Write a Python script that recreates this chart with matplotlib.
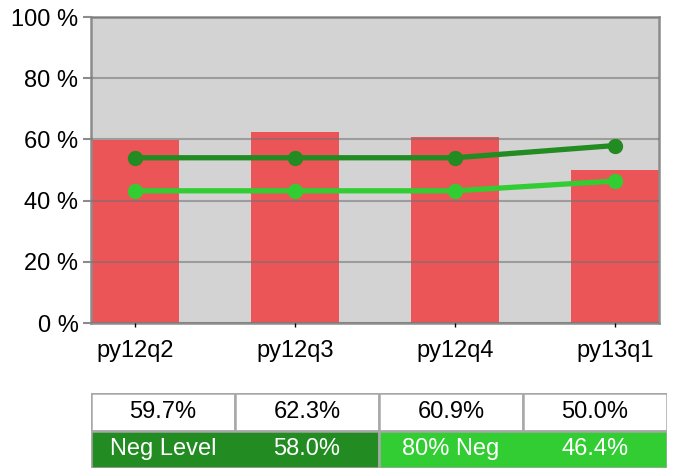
import numpy as np
import matplotlib
matplotlib.use("Agg")
from matplotlib import pyplot as plt
from matplotlib.patches import Rectangle

plt.rcParams["font.family"] = ["Liberation Sans", "DejaVu Sans"]

# data
quarters = ["py12q2", "py12q3", "py12q4", "py13q1"]
share = [59.7, 62.3, 60.9, 50.0]
neg_level = [54.0, 54.0, 54.0, 58.0]
neg_80 = [43.2, 43.2, 43.2, 46.4]
legend_names = ["Neg Level", "80% Neg"]

bar_color = "#ec5558"
dark_green = "#228b22"
light_green = "#32cd32"
frame_gray = "#8c8c8c"
fs = 17

fig = plt.figure(figsize=(6.78, 4.72), dpi=100)
ax = fig.add_axes([91 / 678, 1 - 323 / 472, 568 / 678, 306 / 472])
ax.set_facecolor("#d3d3d3")

x = np.arange(len(quarters))
ax.bar(x, share, width=0.55, color=bar_color, zorder=1)
ax.set_axisbelow(False)
ax.yaxis.grid(True, color="#707070", alpha=0.55, linewidth=1.5, zorder=2)
ax.plot(x, neg_level, color=dark_green, lw=3.8, marker="o", ms=10, zorder=3)
ax.plot(x, neg_80, color=light_green, lw=3.8, marker="o", ms=10, zorder=3)

ax.set_xlim(-0.275, 3.275)
ax.set_ylim(0, 100)
ax.set_yticks(np.arange(0, 101, 20))
ax.set_yticklabels([f"{v} %" for v in range(0, 101, 20)], fontsize=fs)
ax.set_xticks(x)
ax.set_xticklabels(quarters, fontsize=fs)
ax.tick_params(axis="y", length=6, width=1.5, color=frame_gray, pad=3)
ax.tick_params(axis="x", length=3, width=1, color="black", pad=9)
for side in ax.spines.values():
    side.set_color(frame_gray)
    side.set_linewidth(1.8)

# table under the chart
tab = fig.add_axes([91 / 678, 1 - 468 / 472, 576 / 678, 75 / 472])
tab.set_xlim(0, 4)
tab.set_ylim(0, 2)
tab.axis("off")
border = "#a8a8a8"
for i, v in enumerate(share):
    tab.add_patch(Rectangle((i, 1), 1, 1, facecolor="white", edgecolor=border, lw=1.8))
    tab.text(i + 0.5, 1.5, f"{v:.1f}%", ha="center", va="center", fontsize=fs)
row2 = [(legend_names[0], neg_level[-1], dark_green), (legend_names[1], neg_80[-1], light_green)]
for k, (name, val, col) in enumerate(row2):
    tab.add_patch(Rectangle((2 * k, 0), 2, 1, facecolor=col, edgecolor=border, lw=1.8))
    tab.text(2 * k + 0.5, 0.5, name, ha="center", va="center", fontsize=fs, color="white")
    tab.text(2 * k + 1.5, 0.5, f"{val:.1f}%", ha="center", va="center", fontsize=fs, color="white")

fig.savefig("out.png", dpi=100)
